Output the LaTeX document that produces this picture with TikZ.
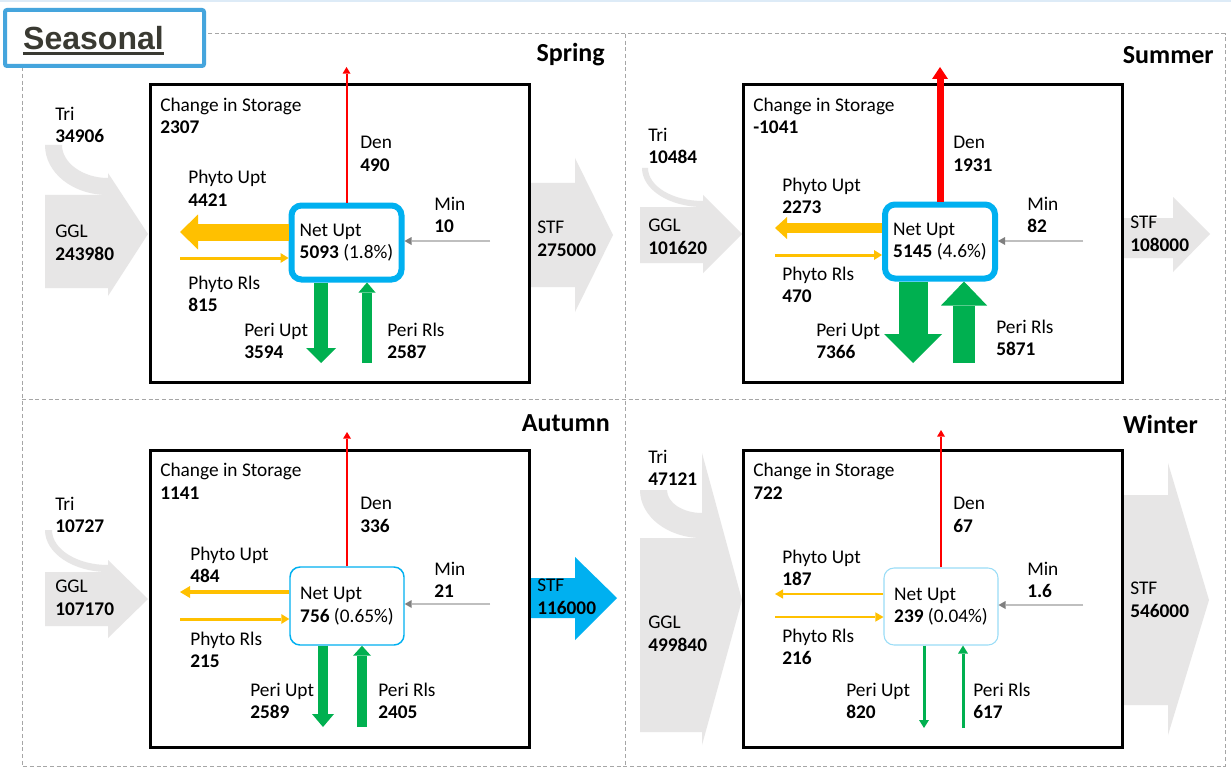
\documentclass[tikz,border=0pt]{standalone}
\usepackage{fontspec}
\setmainfont{Carlito}
\newfontfamily\headfont{Liberation Sans}
\usetikzlibrary{arrows.meta}
\definecolor{flowgray}{HTML}{E7E6E6}
\definecolor{upcyan}{HTML}{00B0F0}
\definecolor{paleup}{HTML}{9BDDF7}
\definecolor{phyto}{HTML}{FFC000}
\definecolor{peri}{HTML}{00B050}
\definecolor{denred}{HTML}{FF0000}
\definecolor{minline}{HTML}{BFBFBF}
\definecolor{mintip}{HTML}{7F7F7F}
\definecolor{framegray}{HTML}{A6A6A6}
\definecolor{headblue}{HTML}{45A5DD}
\definecolor{headtext}{HTML}{3A3A32}
\definecolor{paleline}{HTML}{DDEBF7}

\begin{document}
\begin{tikzpicture}[x=0.75pt,y=-0.75pt,
  lbl/.style={anchor=west,align=left,inner sep=0pt,font=\fontsize{14.5}{17}\selectfont},
  season/.style={anchor=east,inner sep=0pt,font=\fontsize{19.5}{23}\selectfont\bfseries},
  budget/.style={draw=black,line width=2.25pt},
  netbox/.style={draw=upcyan,fill=white,rounded corners=7.5pt,align=left,inner sep=0pt,font=\fontsize{14.5}{17}\selectfont},
  flow/.style={fill=flowgray},
  frame/.style={draw=framegray,line width=0.75pt,dash pattern=on 3pt off 2pt}]
\fill[white] (0,0) rectangle (1231,770);
\useasboundingbox (0,0) rectangle (1231,770);
\draw[paleline,line width=1.5pt] (0,1) -- (1231,1);

\draw[frame] (22,34) rectangle (1225,766);
\draw[frame] (625,34) -- (625,766);
\draw[frame] (22,399) -- (1225,399);

\path (104.5,38) node (head) [draw=headblue,line width=3pt,fill=white,rounded corners=1.5pt,minimum width=149.25pt,minimum height=42pt] {};
\path (93.5,50) node (seasonal) [anchor=base,inner sep=0pt,text=headtext,font=\headfont\fontsize{24}{28}\selectfont\bfseries] {Seasonal};
\draw[headtext,line width=2.25pt] ([yshift=-3pt]seasonal.base west) -- ([yshift=-3pt]seasonal.base east);

% Spring
\fill[flow] (45,145) .. controls (45,173) and (73,195) .. (108,195) -- (108,178) .. controls (83,178) and (62,163) .. (62,145) -- cycle;
\fill[flow] (45,195) -- (108,195) -- (108,173) -- (148,234) -- (108,296) -- (108,288) -- (45,288) -- cycle;
\fill[flow] (530,183) -- (575,183) -- (575,158) -- (613,235) -- (575,312) -- (575,287) -- (530,287) -- cycle;
\draw[budget] (150,85) rectangle (529,382);
\path (346.5,242.5) node (netsp) [netbox,line width=4.5pt,minimum width=82.5pt,minimum height=55.5pt] {Net Upt\\\textbf{5093} (1.8\%)};
\path (347,67) coordinate (dentopsp);
\path (180,232) coordinate (puendsp);
\path (180,258) coordinate (prbegsp);
\path (490,241) coordinate (minbegsp);
\path (321,363) coordinate (peuendsp);
\path (367,363) coordinate (perbegsp);
\draw [denred,line width=1.5pt,-{Triangle[length=5pt,width=6pt,line width=0pt]}] (netsp.north) -- (netsp.north |- dentopsp);
\draw [phyto,line width=12.75pt,-{Triangle[length=13.5pt,width=26.25pt,line width=0pt]}] (netsp.west |- puendsp) -- (puendsp);
\draw [phyto,line width=2.25pt,-{Triangle[length=6pt,width=7.5pt,line width=0pt]}] (prbegsp) -- (netsp.west |- prbegsp);
\draw [minline,line width=1.1pt,-{Triangle[length=5.25pt,width=6pt,line width=0pt,color=mintip]}] (minbegsp) -- (netsp.east |- minbegsp);
\draw [peri,line width=10.5pt,-{Triangle[length=11.25pt,width=22.5pt,line width=0pt]}] (netsp.south -| peuendsp) -- (peuendsp);
\draw [peri,line width=7.5pt,-{Triangle[length=7.5pt,width=12.75pt,line width=0pt]}] (perbegsp) -- (netsp.south -| perbegsp);
\path (605,55) node (titlesp) [season] {Spring};
\path (55,125) node (trisp) [lbl] {Tri\\\textbf{34906}};
\path (55,243) node (gglsp) [lbl] {GGL\\\textbf{243980}};
\path (537,239) node (stfsp) [lbl] {STF\\\textbf{275000}};
\path (160,116) node (chsp) [lbl] {Change in Storage\\\textbf{2307}};
\path (360,154) node (densp) [lbl] {Den\\\textbf{490}};
\path (188,188) node (pupsp) [lbl] {Phyto Upt\\\textbf{4421}};
\path (188,294) node (prlsp) [lbl] {Phyto Rls\\\textbf{815}};
\path (434,215) node (minsp) [lbl] {Min\\\textbf{10}};
\path (244,341) node (peusp) [lbl] {Peri Upt\\\textbf{3594}};
\path (387,341) node (persp) [lbl] {Peri Rls\\\textbf{2587}};

% Summer
\fill[flow] (642,168) .. controls (642,189.5) and (669.3,207) .. (703,207) -- (703,201) .. controls (672.6,201) and (648,186.2) .. (648,168) -- cycle;
\fill[flow] (640,207) -- (703,207) -- (703,195) -- (742,234) -- (703,273) -- (703,263) -- (640,263) -- cycle;
\fill[flow] (1123,218) -- (1173,218) -- (1173,197) -- (1210,234) -- (1173,272) -- (1173,258) -- (1123,258) -- cycle;
\draw[budget] (743,85) rectangle (1122,382);
\path (940,241.5) node (netsu) [netbox,line width=4.5pt,minimum width=82.5pt,minimum height=55.5pt] {Net Upt\\\textbf{5145} (4.6\%)};
\path (940,67) coordinate (dentopsu);
\path (775,228) coordinate (puendsu);
\path (775,255) coordinate (prbegsu);
\path (1083,241) coordinate (minbegsu);
\path (913,363) coordinate (peuendsu);
\path (964,363) coordinate (perbegsu);
\draw [denred,line width=5.25pt,-{Triangle[length=9pt,width=12pt,line width=0pt]}] (netsu.north) -- (netsu.north |- dentopsu);
\draw [phyto,line width=7.5pt,-{Triangle[length=9pt,width=16.5pt,line width=0pt]}] (netsu.west |- puendsu) -- (puendsu);
\draw [phyto,line width=2.25pt,-{Triangle[length=6pt,width=7.5pt,line width=0pt]}] (prbegsu) -- (netsu.west |- prbegsu);
\draw [minline,line width=1.1pt,-{Triangle[length=5.25pt,width=6pt,line width=0pt,color=mintip]}] (minbegsu) -- (netsu.east |- minbegsu);
\draw [peri,line width=21.75pt,-{Triangle[length=21.75pt,width=43.5pt,line width=0pt]}] (netsu.south -| peuendsu) -- (peuendsu);
\draw [peri,line width=16.5pt,-{Triangle[length=18pt,width=34.5pt,line width=0pt]}] (perbegsu) -- (netsu.south -| perbegsu);
\path (1214,55) node (titlesu) [season] {Summer};
\path (648,146) node (trisu) [lbl] {Tri\\\textbf{10484}};
\path (648,237) node (gglsu) [lbl] {GGL\\\textbf{101620}};
\path (1130,234) node (stfsu) [lbl] {STF\\\textbf{108000}};
\path (753,116) node (chsu) [lbl] {Change in Storage\\\textbf{-1041}};
\path (953,154) node (densu) [lbl] {Den\\\textbf{1931}};
\path (782,196) node (pupsu) [lbl] {Phyto Upt\\\textbf{2273}};
\path (782,285) node (prlsu) [lbl] {Phyto Rls\\\textbf{470}};
\path (1027,215) node (minsu) [lbl] {Min\\\textbf{82}};
\path (816,341) node (peusu) [lbl] {Peri Upt\\\textbf{7366}};
\path (996,338) node (persu) [lbl] {Peri Rls\\\textbf{5871}};

% Autumn
\fill[flow] (45,530) .. controls (45,553.2) and (73.2,572) .. (108,572) -- (108,565) .. controls (77.1,565) and (52,549.3) .. (52,530) -- cycle;
\fill[flow] (45,572) -- (108,572) -- (108,560) -- (148,599) -- (108,638) -- (108,626) -- (45,626) -- cycle;
\fill[upcyan] (530,578) -- (575,578) -- (575,557) -- (617,598) -- (575,640) -- (575,618) -- (530,618) -- cycle;
\draw[budget] (150,450) rectangle (529,747);
\path (347,606) node (netau) [netbox,line width=1.1pt,minimum width=85.5pt,minimum height=58.5pt] {Net Upt\\\textbf{756} (0.65\%)};
\path (347,432) coordinate (dentopau);
\path (180,592) coordinate (puendau);
\path (180,619) coordinate (prbegau);
\path (490,604) coordinate (minbegau);
\path (323,727) coordinate (peuendau);
\path (362,727) coordinate (perbegau);
\draw [denred,line width=1.5pt,-{Triangle[length=5pt,width=6pt,line width=0pt]}] (netau.north) -- (netau.north |- dentopau);
\draw [phyto,line width=3pt,-{Triangle[length=7.5pt,width=9pt,line width=0pt]}] (netau.west |- puendau) -- (puendau);
\draw [phyto,line width=2.25pt,-{Triangle[length=6pt,width=7.5pt,line width=0pt]}] (prbegau) -- (netau.west |- prbegau);
\draw [minline,line width=1.1pt,-{Triangle[length=5.25pt,width=6pt,line width=0pt,color=mintip]}] (minbegau) -- (netau.east |- minbegau);
\draw [peri,line width=7.5pt,-{Triangle[length=9.75pt,width=16.5pt,line width=0pt]}] (netau.south -| peuendau) -- (peuendau);
\draw [peri,line width=7.5pt,-{Triangle[length=7.5pt,width=13.5pt,line width=0pt]}] (perbegau) -- (netau.south -| perbegau);
\path (610,423) node (titleau) [season] {Autumn};
\path (55,515) node (triau) [lbl] {Tri\\\textbf{10727}};
\path (55,598) node (gglau) [lbl] {GGL\\\textbf{107170}};
\path (537,597) node (stfau) [lbl] {STF\\\textbf{116000}};
\path (160,481) node (chau) [lbl] {Change in Storage\\\textbf{1141}};
\path (360,515) node (denau) [lbl] {Den\\\textbf{336}};
\path (190,565) node (pupau) [lbl] {Phyto Upt\\\textbf{484}};
\path (190,650) node (prlau) [lbl] {Phyto Rls\\\textbf{215}};
\path (434,580) node (minau) [lbl] {Min\\\textbf{21}};
\path (250,701) node (peuau) [lbl] {Peri Upt\\\textbf{2589}};
\path (378,701) node (perau) [lbl] {Peri Rls\\\textbf{2405}};

% Winter
\fill[flow] (640,490) .. controls (640,516.5) and (667.8,538) .. (702,538) -- (702,513) .. controls (682.7,513) and (667,502.7) .. (667,490) -- cycle;
\fill[flow] (640,538) -- (702,538) -- (702,453) -- (742,600) -- (702,745) -- (702,732) -- (640,732) -- cycle;
\fill[flow] (1123,495) -- (1168,495) -- (1168,463) -- (1209,600) -- (1168,735) -- (1168,705) -- (1123,705) -- cycle;
\draw[budget] (743,450) rectangle (1122,747);
\path (941,606.5) node (netwi) [netbox,draw=paleup,line width=0.8pt,minimum width=85.5pt,minimum height=57.75pt] {Net Upt\\\textbf{239} (0.04\%)};
\path (940,430) coordinate (dentopwi);
\path (775,594) coordinate (puendwi);
\path (775,617) coordinate (prbegwi);
\path (1083,605) coordinate (minbegwi);
\path (924,728) coordinate (peuendwi);
\path (963,728) coordinate (perbegwi);
\draw [denred,line width=0.9pt,-{Triangle[length=5pt,width=6pt,line width=0pt]}] (netwi.north) -- (netwi.north |- dentopwi);
\draw [phyto,line width=1.5pt,-{Triangle[length=6pt,width=7pt,line width=0pt]}] (netwi.west |- puendwi) -- (puendwi);
\draw [phyto,line width=1.5pt,-{Triangle[length=6pt,width=7pt,line width=0pt]}] (prbegwi) -- (netwi.west |- prbegwi);
\draw [minline,line width=1.1pt,-{Triangle[length=5.25pt,width=6pt,line width=0pt,color=mintip]}] (minbegwi) -- (netwi.east |- minbegwi);
\draw [peri,line width=2.25pt,-{Triangle[length=6pt,width=7.5pt,line width=0pt]}] (netwi.south -| peuendwi) -- (peuendwi);
\draw [peri,line width=2.25pt,-{Triangle[length=6pt,width=7.5pt,line width=0pt]}] (perbegwi) -- (netwi.south -| perbegwi);
\path (1198,424) node (titlewi) [season] {Winter};
\path (648,468) node (triwi) [lbl] {Tri\\\textbf{47121}};
\path (648,634) node (gglwi) [lbl] {GGL\\\textbf{499840}};
\path (1130,600) node (stfwi) [lbl] {STF\\\textbf{546000}};
\path (753,481) node (chwi) [lbl] {Change in Storage\\\textbf{722}};
\path (953,515) node (denwi) [lbl] {Den\\\textbf{67}};
\path (782,568) node (pupwi) [lbl] {Phyto Upt\\\textbf{187}};
\path (782,647) node (prlwi) [lbl] {Phyto Rls\\\textbf{216}};
\path (1027,580) node (minwi) [lbl] {Min\\\textbf{1.6}};
\path (846,701) node (peuwi) [lbl] {Peri Upt\\\textbf{820}};
\path (973,701) node (perwi) [lbl] {Peri Rls\\\textbf{617}};

\end{tikzpicture}
\end{document}
